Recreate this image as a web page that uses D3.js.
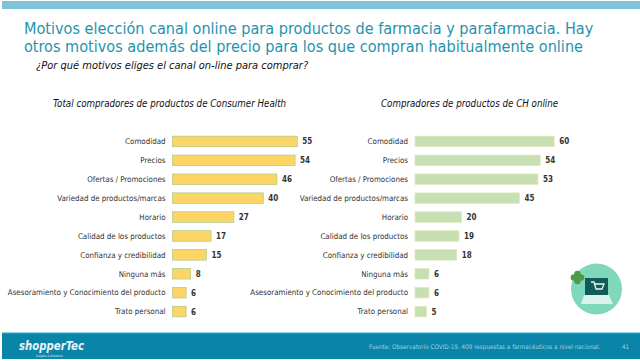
<!DOCTYPE html>
<html><head><meta charset="utf-8">
<script src="https://cdnjs.cloudflare.com/ajax/libs/d3/7.8.5/d3.min.js"></script>
<style>html,body{margin:0;padding:0;background:#fff}svg{display:block}text{font-family:"DejaVu Sans",sans-serif;font-stretch:condensed}</style>
</head><body><svg id="c" width="640" height="361"></svg>
<script>
const categories=["Comodidad","Precios","Ofertas / Promociones","Variedad de productos/marcas","Horario","Calidad de los productos","Confianza y credibilidad","Ninguna más","Asesoramiento y Conocimiento del producto","Trato personal"];
const totalValues=[55,54,46,40,27,17,15,8,6,6];
const onlineValues=[60,54,53,45,20,19,18,6,6,5];
const titleLines=["Motivos elección canal online para productos de farmacia y parafarmacia. Hay","otros motivos además del precio para los que compran habitualmente online"];
const svg=d3.select("#c");
svg.append("rect").attr("x",2).attr("y",1).attr("width",638).attr("height",8).attr("fill","#7fc3d7");
svg.selectAll(".t").data(titleLines).join("text").attr("x",24).attr("y",(d,i)=>34+i*17.5)
 .attr("font-size",16.1).attr("fill","#1f93ad").text(d=>d);
svg.append("text").attr("x",36).attr("y",69).attr("font-size",11).attr("font-style","italic").attr("fill","#111").text("¿Por qué motivos eliges el canal on-line para comprar?");
function panel(values,x0,pxPerUnit,color,stroke,title,titleX){
 const x=d3.scaleLinear().domain([0,60]).range([x0,x0+60*pxPerUnit]);
 const y=d3.scaleBand().domain(categories).range([132,321]).paddingInner(0.44).paddingOuter(0.22);
 svg.append("text").attr("x",titleX).attr("y",107).attr("font-size",9.7).attr("font-style","italic").attr("fill","#111").text(title);
 const g=svg.append("g");
 const rows=g.selectAll("g").data(categories).join("g");
 rows.append("rect").attr("x",x0).attr("y",d=>y(d)).attr("height",y.bandwidth())
  .attr("width",(d,i)=>x(values[i])-x0).attr("fill",color).attr("stroke",stroke).attr("stroke-width",0.7);
 rows.append("text").attr("x",x0-7).attr("y",d=>y(d)+y.bandwidth()/2+2.8).attr("text-anchor","end").attr("font-size",7.9).attr("fill","#333").text(d=>d);
 rows.append("text").attr("x",(d,i)=>x(values[i])+5).attr("y",d=>y(d)+y.bandwidth()/2+3).attr("font-size",8).attr("font-weight",700).attr("fill","#333").text((d,i)=>values[i]);
}
panel(totalValues,172.5,2.27,"#fdd565","#a9c98a","Total compradores de productos de Consumer Health",53);
panel(onlineValues,415,2.32,"#c6e0b4","#e6e8b8","Compradores de productos de CH online",381);
// footer
svg.append("rect").attr("x",2).attr("y",333).attr("width",638).attr("height",26).attr("fill","#0a84a8");
svg.append("rect").attr("x",2).attr("y",332).attr("width",638).attr("height",1.2).attr("fill","#8fd0e0");
svg.append("text").attr("x",19).attr("y",349.5).attr("font-size",12.5).attr("font-weight",700).attr("font-style","italic").attr("fill","#e8f4f8").attr("textLength",65).attr("lengthAdjust","spacingAndGlyphs").text("shopperTec");
svg.append("text").attr("x",36).attr("y",356.5).attr("font-size",3).attr("fill","#e8f4f8").text("Insights & Solutions");
svg.append("text").attr("x",369).attr("y",349).attr("font-size",6.3).attr("fill","#9fd3e2").text("Fuente: Observatorio COVID-19. 409 respuestas a farmacéuticos a nivel nacional.");
svg.append("text").attr("x",622).attr("y",349).attr("font-size",6.3).attr("fill","#9fd3e2").text("41");
// icon
const ic=svg.append("g");
ic.append("circle").attr("cx",596.5).attr("cy",289).attr("r",25.5).attr("fill","#7fd8bb");
ic.append("rect").attr("x",585).attr("y",278).attr("width",23).attr("height",17).attr("fill","#0f5c58");
ic.append("path").attr("d","M584 295 L609 295 L613 304 L581 304 Z").attr("fill","#d9f3ec");
ic.append("path").attr("d","M591 282 h3 l2 7 h6 l2 -5 h-9").attr("fill","none").attr("stroke","#e9f7f3").attr("stroke-width",1.3);
[[0,-3.5],[3.5,0],[0,3.5],[-3.5,0]].forEach(p=>ic.append("circle").attr("cx",577.5+p[0]).attr("cy",277.5+p[1]).attr("r",3.3).attr("fill","#4f9a45"));
</script></body></html>
